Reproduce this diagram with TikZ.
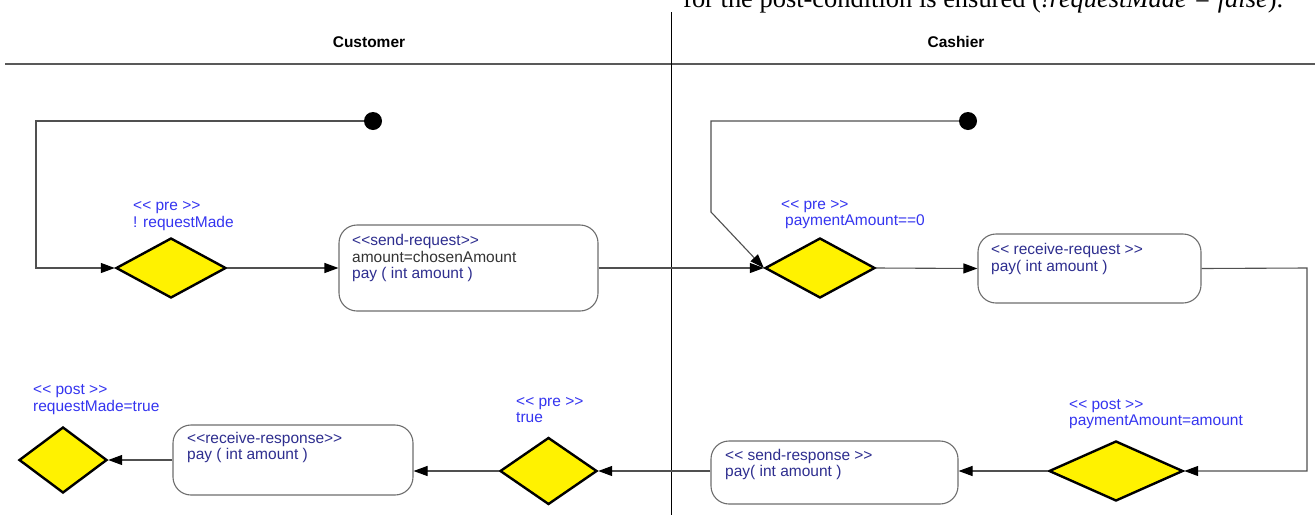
\documentclass[tikz,border=0pt]{standalone}
\usepackage{fontspec}
\setmainfont{Liberation Sans}[Ligatures=TeXOff]
\newfontfamily\serifpart{Liberation Serif}
\usetikzlibrary{shapes.geometric,arrows.meta}
\definecolor{lblue}{HTML}{3535F0}
\definecolor{navy}{HTML}{2E2E8F}
\definecolor{dgray}{HTML}{333333}
\definecolor{conncol}{HTML}{505050}
\definecolor{boxcol}{HTML}{6E6E6E}
\tikzset{
  conn/.style={draw=conncol, line width=1.1pt},
  arr/.style={conn, -{Triangle[length=14pt,width=10pt,color=black]}},
  dec/.style={diamond, draw=black, line width=2.4pt, fill=yellow, inner sep=0pt, minimum width=#1},
  actbox/.style={draw=boxcol, line width=1.1pt, rounded corners=18pt, inner sep=0pt},
  startdot/.style={circle, fill=black, inner sep=0pt, minimum size=18pt},
  lbl/.style={anchor=base west, inner sep=0pt, text=lblue, font=\fontsize{15.5pt}{17pt}\selectfont},
  btxt/.style={anchor=base west, inner sep=0pt, text=navy, font=\fontsize{15.5pt}{17pt}\selectfont},
  gtxt/.style={anchor=base west, inner sep=0pt, text=dgray, font=\fontsize{15.5pt}{17pt}\selectfont},
  head/.style={inner sep=0pt, font=\bfseries\fontsize{15.5pt}{17pt}\selectfont},
}
\begin{document}
\begin{tikzpicture}[x=1pt,y=-1pt]
\clip (0,0) rectangle (1315,515);
\fill[white] (0,0) rectangle (1315,515);
% clipped caption line from the page
\node[anchor=base west, inner sep=0pt] (cap) at (683,7) {\resizebox{600pt}{!}{\serifpart for the post-condition is ensured (\textit{!requestMade = false}).}};
% swimlane frame
\coordinate (hl) at (5,64);
\coordinate (hr) at (1315,64);
\coordinate (vt) at (671,12);
\coordinate (vb) at (671,515);
\draw[line width=1.8pt, draw=black!65] (hl) -- (hr);
\draw[line width=1pt, draw=black] (vt) -- (vb);
\node[head] (customer) at (369,42) {Customer};
\node[head] (cashier) at (956,42) {Cashier};

% ---- Customer lane, top
\node[startdot] (s1) at (373,121) {};
\node[dec=110pt, minimum height=60pt] (d1) at (171,268) {};
\node[lbl] (d1a) at (133,210) {<< pre >>};
\node[lbl] (d1b) at (133,227) {! requestMade};
\node[actbox, minimum width=259pt, minimum height=86pt] (b1) at (468.5,268) {};
\node[btxt] (b1a) at (352,245) {<<send-request>>};
\node[gtxt] (b1b) at (352,262) {amount=chosenAmount};
\node[btxt] (b1c) at (352,278) {pay ( int amount )};

% ---- Cashier lane, top
\node[startdot] (s2) at (968,121) {};
\node[dec=110pt, minimum height=60pt] (d2) at (820,268) {};
\node[lbl] (d2a) at (781,209) {<< pre >>};
\node[lbl] (d2b) at (785,225) {paymentAmount==0};
\node[actbox, minimum width=223pt, minimum height=69pt] (b2) at (1089.5,268.5) {};
\node[btxt] (b2a) at (991,254) {<< receive-request >>};
\node[btxt] (b2b) at (991,271) {pay( int amount )};

% ---- Cashier lane, bottom
\node[dec=134pt, minimum height=60pt] (d3) at (1116,471) {};
\node[lbl] (d3a) at (1069,409) {<< post >>};
\node[lbl] (d3b) at (1069,425) {paymentAmount=amount};
\node[actbox, minimum width=247pt, minimum height=63pt] (b3) at (834.5,472.5) {};
\node[btxt] (b3a) at (725,460) {<< send-response >>};
\node[btxt] (b3b) at (725,476) {pay( int amount )};

% ---- Customer lane, bottom
\node[dec=97pt, minimum height=67pt] (d4) at (548.5,471) {};
\node[lbl] (d4a) at (516,406) {<< pre >>};
\node[lbl] (d4b) at (516,422) {true};
\node[actbox, minimum width=240pt, minimum height=70pt] (b4) at (293,460) {};
\node[btxt] (b4a) at (187,443) {<<receive-response>>};
\node[btxt] (b4b) at (187,459) {pay ( int amount )};
\node[dec=88pt, minimum height=66pt] (d5) at (63,460) {};
\node[lbl] (d5a) at (33,394) {<< post >>};
\node[lbl] (d5b) at (33,411) {requestMade=true};

% ---- connectors
\coordinate (c1a) at (36,121);
\coordinate (c1b) at (36,268);
\draw[arr] (s1) -- (c1a) -- (c1b) -- (d1.west);
\draw[arr] (d1.east) -- (b1.west);
\draw[arr] (b1.east) -- (d2.west);
\coordinate (c2a) at (711,121);
\coordinate (c2b) at (711,212);
\draw[arr] (s2) -- (c2a) -- (c2b) -- (d2.west);
\draw[arr] (d2.east) -- (b2.west);
\coordinate (c3a) at (1307,268);
\coordinate (c3b) at (1307,471);
\draw[arr] (b2.east) -- (c3a) -- (c3b) -- (d3.east);
\draw[arr] (d3.west) -- (d3.west -| b3.east);
\draw[arr] (d4.east -| b3.west) -- (d4.east);
\draw[arr] (d4.west) -- (d4.west -| b4.east);
\draw[arr] (b4.west) -- (d5.east);
\end{tikzpicture}
\end{document}
